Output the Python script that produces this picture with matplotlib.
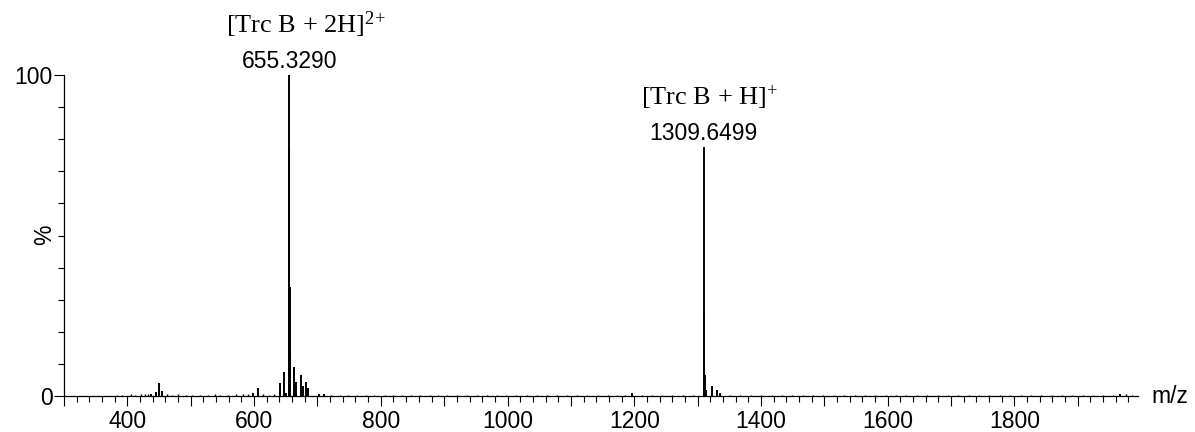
import numpy as np
import matplotlib.pyplot as plt
from matplotlib.ticker import MultipleLocator, FuncFormatter

# main ion clusters (m/z, relative intensity %)
mz_peaks = [655.33, 655.83, 656.33, 656.83,
            641.0, 646.5, 662.3, 666.0, 673.6, 676.7, 682.5, 684.5, 651.0, 702.0,
            1309.65, 1310.65, 1311.65, 1312.65, 1322.0, 1330.8, 1335.0,
            437.0, 445.0, 450.0, 455.0, 598.0, 606.0, 1196.6, 1967.0, 711.0]
int_peaks = [100.0, 77.0, 34.0, 12.0,
             3.9, 7.6, 9.0, 4.5, 6.4, 3.0, 4.5, 2.4, 1.0, 0.7,
             77.5, 24.0, 6.5, 2.0, 3.0, 2.0, 0.8,
             0.5, 1.2, 4.0, 1.5, 0.8, 2.4, 1.0, 0.6, 0.5]

# low level background peaks
mz_noise = [384, 392, 405, 412, 421, 428, 433, 462, 471, 480, 493, 502, 515,
            527, 538, 546, 559, 571, 583, 590, 614, 623, 631, 722, 736, 748,
            763, 777, 790, 806, 819, 833, 847, 862, 878, 891, 905, 921, 936,
            952, 968, 983, 998, 1014, 1031, 1047, 1063, 1078, 1094, 1110, 1126,
            1142, 1158, 1173, 1186, 1212, 1228, 1244, 1260, 1277, 1292, 1351,
            1367, 1384, 1400, 1417, 1433, 1449, 1466, 1482, 1498, 1515, 1531,
            1548, 1564, 1580, 1597, 1613, 1629, 1646, 1662, 1679, 1695, 1711,
            1728, 1744, 1760, 1777, 1793, 1810, 1826, 1842, 1859, 1875, 1891,
            1908, 1924, 1940, 1956, 1976, 1985]
int_noise = [0.3, 0.4, 0.5, 0.4, 0.6, 0.5, 0.7, 0.6, 0.4, 0.5, 0.3, 0.4, 0.3,
             0.4, 0.5, 0.3, 0.4, 0.5, 0.6, 0.5, 0.5, 0.4, 0.6, 0.4, 0.3, 0.4,
             0.3, 0.4, 0.3, 0.4, 0.3, 0.3, 0.4, 0.3, 0.3, 0.4, 0.3, 0.3, 0.4,
             0.3, 0.3, 0.4, 0.3, 0.3, 0.4, 0.3, 0.3, 0.3, 0.4, 0.3, 0.3,
             0.4, 0.3, 0.3, 0.4, 0.3, 0.3, 0.4, 0.3, 0.3, 0.4, 0.3,
             0.3, 0.4, 0.3, 0.3, 0.4, 0.3, 0.3, 0.4, 0.3, 0.3, 0.4,
             0.3, 0.3, 0.4, 0.3, 0.3, 0.4, 0.3, 0.3, 0.4, 0.3, 0.3,
             0.4, 0.3, 0.3, 0.4, 0.3, 0.3, 0.4, 0.3, 0.3, 0.4, 0.3,
             0.3, 0.4, 0.3, 0.4, 0.5, 0.4]

# labelled peaks
label_mz = [655.33, 1309.65]
label_int = [100.0, 77.5]
label_mass = ['655.3290', '1309.6499']
label_ion = [r'[Trc B + 2H]$^{2{+}}$', r'[Trc B + H]$^{{+}}$']

plt.rcParams['font.family'] = ['Liberation Sans', 'DejaVu Sans']
plt.rcParams['mathtext.fontset'] = 'custom'
plt.rcParams['mathtext.rm'] = 'Liberation Serif'
plt.rcParams['mathtext.it'] = 'Liberation Serif'

fig = plt.figure(figsize=(11.95, 4.32), dpi=100)
ax = fig.add_axes([64 / 1195, 1 - 396 / 432, (1138 - 64) / 1195, (396 - 75) / 432])

ax.vlines(mz_noise, 0, int_noise, color='black', lw=1.0)
ax.vlines(mz_peaks, 0, int_peaks, color='black', lw=1.4)

ax.set_xlim(300, 1995)
ax.set_ylim(0, 100)

ax.spines['right'].set_visible(False)
ax.spines['top'].set_visible(False)
for s in ['left', 'bottom']:
    ax.spines[s].set_linewidth(0.9)

ax.xaxis.set_major_locator(MultipleLocator(100))
ax.xaxis.set_minor_locator(MultipleLocator(20))
ax.xaxis.set_major_formatter(FuncFormatter(
    lambda v, p: '%d' % v if (int(round(v)) % 200 == 0) else ''))
ax.yaxis.set_major_locator(MultipleLocator(100))
ax.yaxis.set_minor_locator(MultipleLocator(10))

ax.tick_params(axis='both', which='major', direction='out', length=7, width=0.8,
               labelsize=16.5)
ax.tick_params(axis='both', which='minor', direction='out', length=4, width=0.8)
ax.tick_params(axis='x', which='major', pad=3)
ax.tick_params(axis='y', which='major', pad=1)

# annotations
ion_dx = [12, 4]
for m, h, lab, ion, dx in zip(label_mz, label_int, label_mass, label_ion, ion_dx):
    ax.annotate(lab, xy=(m, h), xytext=(0, 5), textcoords='offset points',
                ha='center', va='baseline', fontsize=16.5, annotation_clip=False)
    ax.annotate(ion, xy=(m, h), xytext=(dx, 30), textcoords='offset points',
                ha='center', va='baseline', fontsize=19,
                family='Liberation Serif', annotation_clip=False)

fig.text(45 / 1195, 1 - 235 / 432, '%', rotation=90, fontsize=16.5,
         ha='center', va='center')
fig.text(1151 / 1195, 1 - 403 / 432, 'm/z', fontsize=16.5, ha='left', va='baseline')

fig.savefig('out.png', dpi=100)
